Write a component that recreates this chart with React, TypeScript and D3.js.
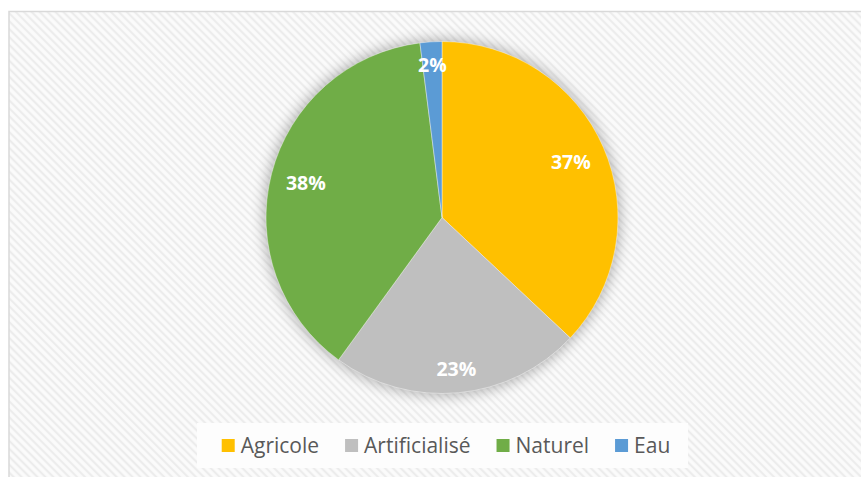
import React, { useEffect, useRef } from "react";
import * as d3 from "d3";

const categories = ["Agricole", "Artificialisé", "Naturel", "Eau"];
const values = [37, 23, 38, 2];
const labels = ["37%", "23%", "38%", "2%"];
const colors = ["#FFC000", "#BFBFBF", "#70AD47", "#5B9BD5"];

const W = 861;
const H = 477;

export default function App() {
  const ref = useRef<SVGSVGElement | null>(null);

  useEffect(() => {
    const svg = d3.select(ref.current);
    svg.selectAll("*").remove();

    const defs = svg.append("defs");
    const P = 5.6;
    const pat = defs
      .append("pattern")
      .attr("id", "hatch")
      .attr("patternUnits", "userSpaceOnUse")
      .attr("width", P)
      .attr("height", P)
      .attr("patternTransform", "rotate(-45)");
    pat.append("rect").attr("width", P).attr("height", P).attr("fill", "#fbfbfb");
    pat
      .append("line")
      .attr("x1", P / 2)
      .attr("y1", 0)
      .attr("x2", P / 2)
      .attr("y2", P)
      .attr("stroke", "#ececec")
      .attr("stroke-width", 2.2);

    const f = defs
      .append("filter")
      .attr("id", "shadow")
      .attr("x", "-20%")
      .attr("y", "-20%")
      .attr("width", "140%")
      .attr("height", "140%");
    f.append("feGaussianBlur").attr("in", "SourceAlpha").attr("stdDeviation", 7).attr("result", "b");
    f.append("feComponentTransfer")
      .append("feFuncA")
      .attr("type", "linear")
      .attr("slope", 0.3);

    svg.append("rect").attr("width", W).attr("height", H).attr("fill", "#ffffff");

    // chart area with frame
    svg
      .append("rect")
      .attr("x", 9)
      .attr("y", 11.5)
      .attr("width", W + 20)
      .attr("height", H + 20)
      .attr("fill", "url(#hatch)")
      .attr("stroke", "#d9d9d9")
      .attr("stroke-width", 1.5);

    const cx = 442;
    const cy = 217.5;
    const R = 176;

    const pie = d3
      .pie<number>()
      .sort(null)
      .value((d) => d);
    const arcs = pie(values);
    const arc = d3.arc<d3.PieArcDatum<number>>().innerRadius(0).outerRadius(R);

    const g = svg.append("g").attr("transform", `translate(${cx},${cy})`);

    g.append("circle")
      .attr("r", R + 2)
      .attr("fill", "#000")
      .attr("filter", "url(#shadow)");

    g.selectAll("path.slice")
      .data(arcs)
      .enter()
      .append("path")
      .attr("class", "slice")
      .attr("d", arc)
      .attr("fill", (_d, i) => colors[i])
      .attr("stroke", "#ffffff")
      .attr("stroke-opacity", 0.5)
      .attr("stroke-width", 0.8);

    // labels: inside end placement
    const fontSize = 19.5;
    arcs.forEach((a, i) => {
      const t = g
        .append("text")
        .text(labels[i])
        .attr("font-family", "'Open Sans', sans-serif")
        .attr("font-weight", "bold")
        .attr("font-size", fontSize)
        .attr("fill", "#ffffff")
        .attr("text-anchor", "middle");
      const w = (t.node() as SVGTextElement).getComputedTextLength();
      const h = 16;
      const mid = (a.startAngle + a.endAngle) / 2;
      const ux = Math.sin(mid);
      const uy = -Math.cos(mid);
      const rl = R * 0.92 - (Math.abs(ux) * w) / 2 - (Math.abs(uy) * h) / 2;
      const x = ux * rl;
      const y = uy * rl;
      t.attr("x", x).attr("y", y + 7);
    });

    // legend
    const lg = svg.append("g");
    lg.append("rect")
      .attr("x", 197)
      .attr("y", 423)
      .attr("width", 491)
      .attr("height", 45)
      .attr("fill", "#fdfdfd");

    const sq = 13;
    const gapText = 6;
    const gapItem = 26;
    const items = categories.map((c, i) => {
      const ig = lg.append("g");
      ig.append("rect").attr("width", sq).attr("height", sq).attr("fill", colors[i]);
      const t = ig
        .append("text")
        .text(c)
        .attr("x", sq + gapText)
        .attr("y", 14)
        .attr("font-family", "'Open Sans', sans-serif")
        .attr("font-size", 21)
        .attr("fill", "#595959");
      const w = (t.node() as SVGTextElement).getComputedTextLength();
      return { ig, width: sq + gapText + w };
    });
    const total = items.reduce((s, it) => s + it.width, 0) + gapItem * (items.length - 1);
    let x = 446 - total / 2;
    items.forEach((it) => {
      it.ig.attr("transform", `translate(${x},439)`);
      x += it.width + gapItem;
    });
  }, []);

  return (
    <svg
      ref={ref}
      width={W}
      height={H}
      style={{ position: "fixed", left: 0, top: 0, display: "block" }}
    />
  );
}
